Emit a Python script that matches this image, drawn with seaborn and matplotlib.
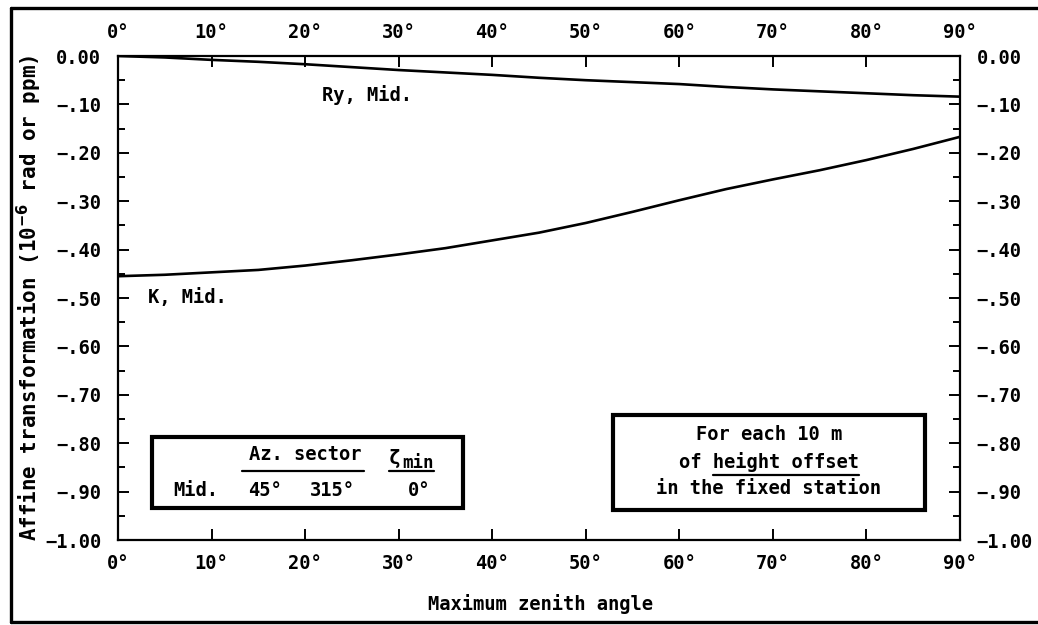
import numpy as np
import pandas as pd
import matplotlib
matplotlib.use("Agg")
import matplotlib.pyplot as plt
import seaborn as sns
from matplotlib.ticker import MultipleLocator, FixedLocator, FuncFormatter
from matplotlib.lines import Line2D
from matplotlib.patches import Rectangle

# ---- data -------------------------------------------------------------
zenith_deg = [0, 5, 10, 15, 20, 25, 30, 35, 40, 45, 50, 55, 60, 65, 70, 75, 80, 85, 90]
ry_mid = [0.000, -0.003, -0.008, -0.012, -0.017, -0.023, -0.029, -0.034, -0.039, -0.045,
          -0.050, -0.054, -0.058, -0.064, -0.069, -0.073, -0.077, -0.081, -0.084]
k_mid = [-0.455, -0.452, -0.447, -0.442, -0.433, -0.422, -0.410, -0.397, -0.381, -0.365,
         -0.345, -0.322, -0.298, -0.275, -0.255, -0.236, -0.215, -0.192, -0.167]
series_names = ["Ry, Mid.", "K, Mid."]
x_ticks = [0, 10, 20, 30, 40, 50, 60, 70, 80, 90]
y_ticks = [0.0, -0.1, -0.2, -0.3, -0.4, -0.5, -0.6, -0.7, -0.8, -0.9, -1.0]

W, H = 1038, 625
FS = 13.5

sns.set_style("ticks")
plt.rcParams["font.family"] = ["DejaVu Sans Mono", "DejaVu Sans"]
plt.rcParams["font.weight"] = "bold"
plt.rcParams["text.color"] = "black"
plt.rcParams["axes.labelcolor"] = "black"
plt.rcParams["axes.linewidth"] = 1.6


def fpos(px, py):
    """Pixel position -> figure fraction."""
    return px / W, 1 - py / H


fig = plt.figure(figsize=(W / 100, H / 100), dpi=100)
ax = fig.add_axes([118 / W, 1 - 540 / H, 842 / W, 484 / H])

df = pd.DataFrame({
    "zenith": zenith_deg * 2,
    "value": ry_mid + k_mid,
    "series": [series_names[0]] * len(zenith_deg) + [series_names[1]] * len(zenith_deg),
})
sns.lineplot(data=df, x="zenith", y="value", units="series", estimator=None,
             color="black", lw=1.9, ax=ax, legend=False)

ax.set_xlim(0, 90)
ax.set_ylim(-1.0, 0.0)
ax.set_xlabel("")
ax.set_ylabel("")


def yfmt(v, pos=None):
    if abs(v) < 1e-9:
        return "0.00"
    s = f"{abs(v):.2f}"
    if abs(v) < 1:
        s = s[1:]
    return "\u2212" + s


ax.xaxis.set_major_locator(FixedLocator(x_ticks))
ax.xaxis.set_major_formatter(FuncFormatter(lambda v, p: f"{v:.0f}\u00b0"))
ax.yaxis.set_major_locator(FixedLocator(y_ticks))
ax.yaxis.set_minor_locator(MultipleLocator(0.05))
ax.yaxis.set_major_formatter(FuncFormatter(yfmt))
ax.tick_params(which="both", direction="in", top=True, right=True,
               labeltop=True, labelright=True, labelsize=FS, width=1.4,
               colors="black", labelcolor="black")
ax.tick_params(which="major", length=8, pad=12)
ax.tick_params(which="minor", length=5)
ax.tick_params(axis="x", which="major", pad=10)
for sp in ax.spines.values():
    sp.set_color("black")

# curve labels
ax.text(21.8, -0.081, series_names[0], ha="left", va="center", fontsize=FS)
ax.text(3.2, -0.498, series_names[1], ha="left", va="center", fontsize=FS)

# axis titles
fig.text(*fpos(29, 298), "Affine transformation (10$^{\\mathbf{-6}}$ rad or ppm)",
         rotation=90, ha="center", va="center", fontsize=15)
fig.text(*fpos(540, 604), "Maximum zenith angle", ha="center", va="center", fontsize=FS)

# framed notes
for (x0, y0, x1, y1) in [(152, 437, 463, 508), (613, 415, 925, 510)]:
    fx0, fy1 = fpos(x0, y0)
    fx1, fy0 = fpos(x1, y1)
    fig.add_artist(Rectangle((fx0, fy0), fx1 - fx0, fy1 - fy0, transform=fig.transFigure,
                             fill=False, lw=3.0, ec="black", zorder=5))

t_az = fig.text(*fpos(305, 455), "Az. sector", ha="center", va="center", fontsize=FS)
t_zeta = fig.text(*fpos(389, 459), "\u03b6", ha="left", va="center", fontsize=FS + 1)
t_min = fig.text(*fpos(402, 463), "min", ha="left", va="center", fontsize=FS - 1)
fig.text(*fpos(173, 490), "Mid.", ha="left", va="center", fontsize=FS)
fig.text(*fpos(248, 490), "45\u00b0", ha="left", va="center", fontsize=FS)
fig.text(*fpos(310, 490), "315\u00b0", ha="left", va="center", fontsize=FS)
fig.text(*fpos(408, 490), "0\u00b0", ha="left", va="center", fontsize=FS)

cx = 769
fig.text(*fpos(cx, 435), "For each 10 m", ha="center", va="center", fontsize=FS)
line2 = "of height offset"
t_off = fig.text(*fpos(cx, 462), line2, ha="center", va="center", fontsize=FS)
fig.text(*fpos(cx, 488), "in the fixed station", ha="center", va="center", fontsize=FS)

# underlines measured from the rendered text
renderer = fig.canvas.get_renderer()


def underline(xa_px, xb_px, y_px):
    fa, fb = fpos(xa_px, y_px), fpos(xb_px, y_px)
    fig.add_artist(Line2D([fa[0], fb[0]], [fa[1], fb[1]], transform=fig.transFigure,
                          color="black", lw=1.6))


bb = t_az.get_window_extent(renderer)
underline(bb.x0 - 7, bb.x1 + 3, 471)
bz = t_zeta.get_window_extent(renderer)
bm = t_min.get_window_extent(renderer)
underline(bz.x0, bm.x1, 471)
bo = t_off.get_window_extent(renderer)
cw = bo.width / len(line2)
underline(bo.x0 + 3 * cw, bo.x1, 475)

# outer frame (left, top, bottom edges)
for (xa, ya, xb, yb) in [(11, 8, 11, 622), (11, 8, 1038, 8), (11, 622, 1038, 622)]:
    pa, pb = fpos(xa, ya), fpos(xb, yb)
    fig.add_artist(Line2D([pa[0], pb[0]], [pa[1], pb[1]], transform=fig.transFigure,
                          color="black", lw=2.4))

fig.savefig("out.png", dpi=100, facecolor="white")
